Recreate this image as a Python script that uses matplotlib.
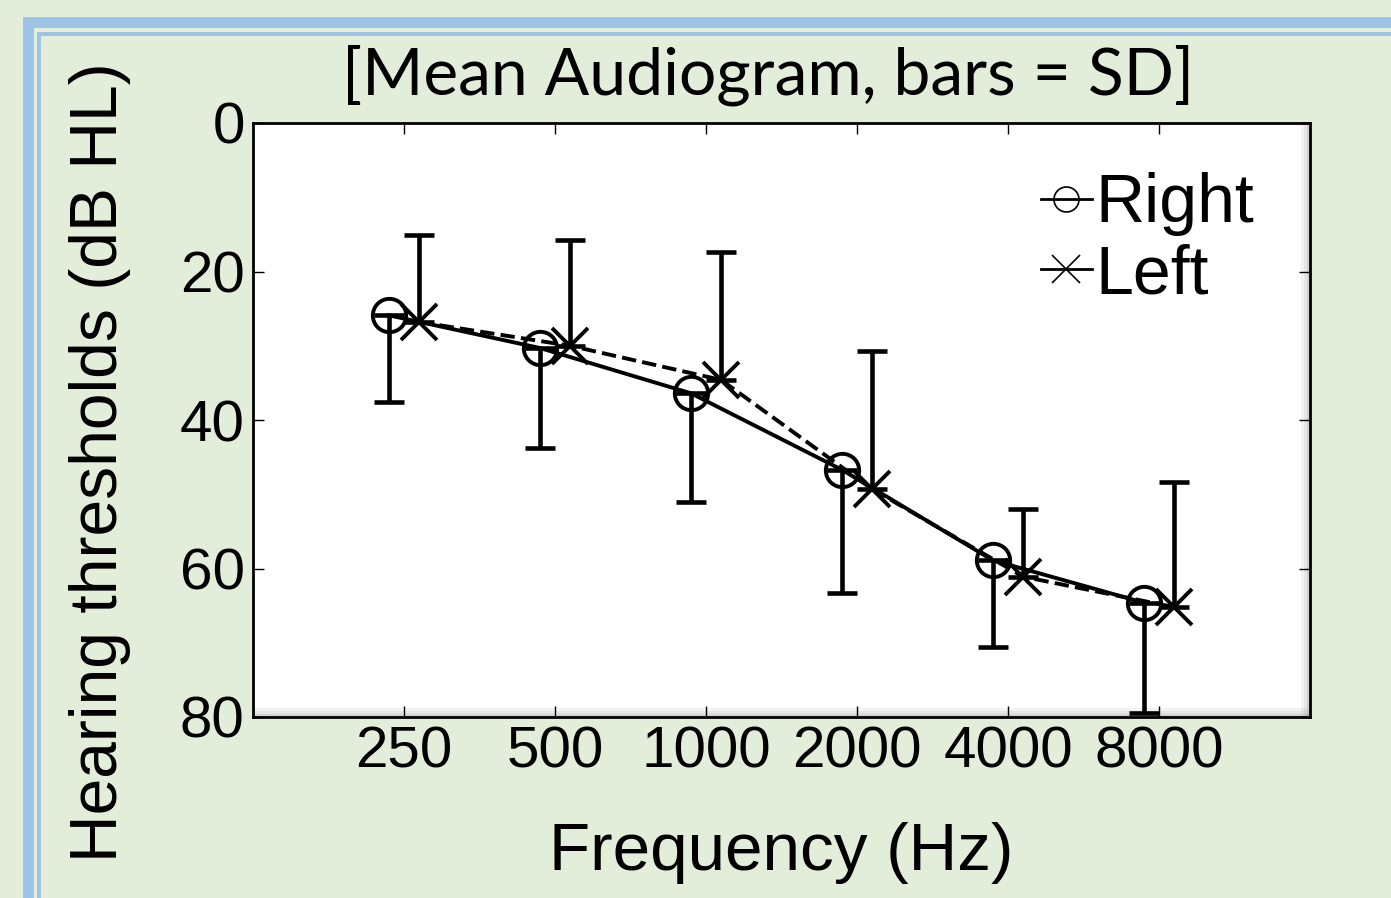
import matplotlib
matplotlib.use("Agg")
import matplotlib.pyplot as plt
from matplotlib.patches import Rectangle

# data
freqs = ["250", "500", "1000", "2000", "4000", "8000"]
right_mean = [25.9, 30.3, 36.4, 46.7, 58.9, 64.6]
right_sd = [11.7, 13.5, 14.6, 16.6, 11.7, 14.9]
left_mean = [26.8, 30.0, 34.6, 49.3, 61.1, 65.2]
left_sd = [11.7, 14.2, 17.2, 18.6, 9.1, 16.8]

W, H = 1391, 898
bg = "#e2eed9"
blue = "#9dc3e6"

fig = plt.figure(figsize=(W / 100, H / 100), dpi=100, facecolor=bg)


def px_rect(x0, y0, x1, y1, color, alpha=1.0, z=0):
    # rectangle given in image pixels (y from top)
    fig.patches.append(Rectangle((x0 / W, 1 - y1 / H), (x1 - x0) / W, (y1 - y0) / H,
                                 transform=fig.transFigure, color=color, lw=0,
                                 alpha=alpha, zorder=z))


# the slide frame
px_rect(23, 17, W + 5, 28, blue)
px_rect(23, 17, 34, H + 5, blue)
px_rect(37, 32, W + 5, 36, blue)
px_rect(37, 32, 41, H + 5, blue)

ax = fig.add_axes([253 / W, 1 - 717 / H, (1310 - 253) / W, (717 - 123) / H])
ax.set_facecolor("white")

# soft shadow along right and bottom edge, inside the box
for k, a in enumerate([0.35, 0.2, 0.1]):
    ax.add_patch(Rectangle((1 - (k + 1) * 0.0028, 0), 0.0028, 1, transform=ax.transAxes,
                           color="gray", alpha=a, lw=0, zorder=1))
    ax.add_patch(Rectangle((0, k * 0.005), 1, 0.005, transform=ax.transAxes,
                           color="gray", alpha=a, lw=0, zorder=1))

x = list(range(len(freqs)))
xr = [i - 0.1 for i in x]
xl = [i + 0.1 for i in x]

ax.errorbar(xr, right_mean, yerr=[[0] * len(x), right_sd], fmt="none", ecolor="black",
            elinewidth=3.3, capsize=11, capthick=3.3, zorder=3)
ax.errorbar(xl, left_mean, yerr=[left_sd, [0] * len(x)], fmt="none", ecolor="black",
            elinewidth=3.3, capsize=11, capthick=3.3, zorder=3)
ax.plot(xr, right_mean, "-", color="black", lw=2.8, marker="o", ms=24,
        mfc="none", mew=2.8, label="Right", zorder=4)
ax.plot(xl, left_mean, "--", color="black", lw=2.8, marker="x", ms=26,
        mew=2.8, label="Left", zorder=4)

ax.set_xlim(-1, 6)
ax.set_ylim(80, 0)
ax.set_xticks(x)
ax.set_xticklabels(freqs)
ax.set_yticks([0, 20, 40, 60, 80])
ax.tick_params(direction="in", length=8, width=1, top=True, right=True,
               labelsize=42, pad=6)
for lab in ax.get_xticklabels() + ax.get_yticklabels():
    lab.set_family("Liberation Sans")
for s in ax.spines.values():
    s.set_linewidth(2)

leg = ax.legend(loc="upper right", bbox_to_anchor=(1.005, 1.02), frameon=False,
                prop={"family": "Liberation Sans", "size": 49},
                handlelength=0.75, handletextpad=0.05, labelspacing=0.1, markerscale=0.75)
for h in leg.legend_handles:
    h.set_linewidth(2)
    h.set_linestyle("-")
    h.set_markeredgewidth(1.2)

fig.text(768 / W, 1 - 75 / H, "[Mean Audiogram, bars = SD]", ha="center", va="center",
         fontsize=47.5, family="Lato")
fig.text(100 / W, 1 - 462 / H, "Hearing thresholds (dB HL)", ha="center", va="center",
         rotation=90, fontsize=47.5, family="Liberation Sans")
fig.text(781 / W, 1 - 853 / H, "Frequency (Hz)", ha="center", va="center",
         fontsize=48.5, family="Liberation Sans")

fig.savefig("out.png", dpi=100, facecolor=bg)
